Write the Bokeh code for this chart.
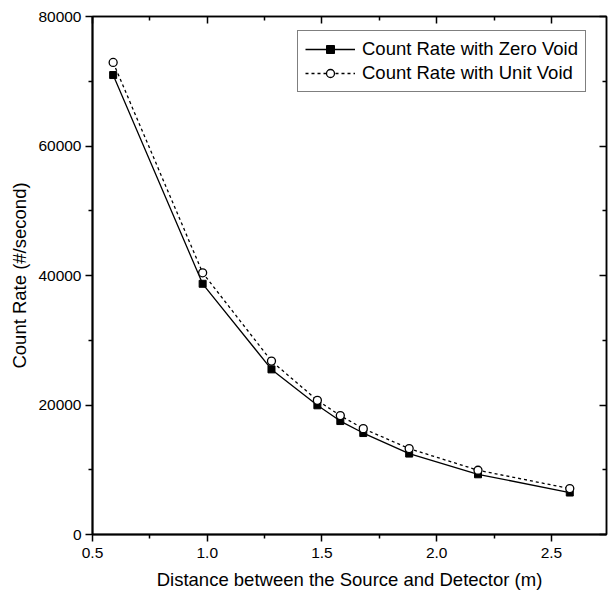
from bokeh.plotting import figure
from bokeh.models import Range1d, LinearAxis, FixedTicker, NumeralTickFormatter, Legend, LegendItem
from bokeh.embed import file_html
from bokeh.resources import INLINE

# Data
distance = [0.59, 0.98, 1.28, 1.48, 1.58, 1.68, 1.88, 2.18, 2.58]
zero_void = [70960, 38720, 25500, 19950, 17520, 15670, 12500, 9300, 6480]
unit_void = [72900, 40420, 26780, 20720, 18360, 16350, 13270, 9920, 7100]

x_ticks = [0.5, 1.0, 1.5, 2.0, 2.5]
x_minor = [0.75, 1.25, 1.75, 2.25]
y_ticks = [0, 20000, 40000, 60000, 80000]
y_minor = [10000, 30000, 50000, 70000]

FONT = "Liberation Sans"

p = figure(width=609, height=599, output_backend="svg", toolbar_location=None,
           x_range=Range1d(0.5, 2.74), y_range=Range1d(0, 80000),
           min_border_left=92, min_border_right=3, min_border_top=16, min_border_bottom=65,
           x_axis_label="Distance between the Source and Detector (m)",
           y_axis_label="Count Rate (#/second)")
p.grid.visible = False
p.outline_line_color = "black"
p.outline_line_width = 1.5
p.background_fill_color = "white"
p.border_fill_color = "white"

def style_main(ax, ticks, minor, fmt):
    ax.ticker = FixedTicker(ticks=ticks, minor_ticks=minor)
    ax.formatter = NumeralTickFormatter(format=fmt)
    ax.axis_line_width = 2
    ax.axis_line_color = "black"
    ax.major_tick_in = 0
    ax.major_tick_out = 7
    ax.minor_tick_in = 0
    ax.minor_tick_out = 4
    ax.major_tick_line_width = 1.5
    ax.minor_tick_line_width = 1.5
    ax.major_label_text_font = FONT
    ax.major_label_text_font_size = "15.5px"
    ax.major_label_text_color = "black"
    ax.axis_label_text_font = FONT
    ax.axis_label_text_font_size = "18.5px"
    ax.axis_label_text_font_style = "normal"
    ax.axis_label_text_color = "black"

style_main(p.xaxis[0], x_ticks, x_minor, "0.0")
style_main(p.yaxis[0], y_ticks, y_minor, "0")
p.xaxis[0].major_label_standoff = 6
p.xaxis[0].axis_label_standoff = 8
p.yaxis[0].major_label_standoff = 4
p.yaxis[0].axis_label_standoff = 5

def side_axis(ticks, minor):
    # inward ticks only; labels are not drawn (no text colour)
    return LinearAxis(ticker=FixedTicker(ticks=ticks, minor_ticks=minor),
                      major_label_text_font_size="1px", major_label_text_color=None,
                      major_label_standoff=0,
                      major_tick_in=7, major_tick_out=0, minor_tick_in=4, minor_tick_out=0,
                      major_tick_line_width=1.5, minor_tick_line_width=1.5,
                      axis_line_width=1.5, axis_line_color="black")

p.add_layout(side_axis(y_ticks, y_minor), "right")
p.add_layout(side_axis(x_ticks, x_minor), "above")

l1 = p.line(distance, zero_void, line_color="black", line_width=1.3)
s1 = p.scatter(distance, zero_void, marker="square", size=7, fill_color="black", line_color="black")
l2 = p.line(distance, unit_void, line_color="black", line_width=1.3, line_dash="3 3")
s2 = p.scatter(distance, unit_void, marker="circle", size=8, fill_color="white", line_color="black", line_width=1.3)

legend = Legend(items=[LegendItem(label="Count Rate with Zero Void", renderers=[l1, s1]),
                       LegendItem(label="Count Rate with Unit Void", renderers=[l2, s2])],
                location=(205, 442), padding=7, spacing=2, label_height=20, glyph_height=20,
                glyph_width=50, label_standoff=7, margin=0,
                border_line_color="black", border_line_width=1.5,
                label_text_font=FONT, label_text_font_size="18.5px", label_text_color="black",
                background_fill_color="white", background_fill_alpha=1)
p.add_layout(legend)

open("out.html", "w").write(file_html(p, INLINE))
